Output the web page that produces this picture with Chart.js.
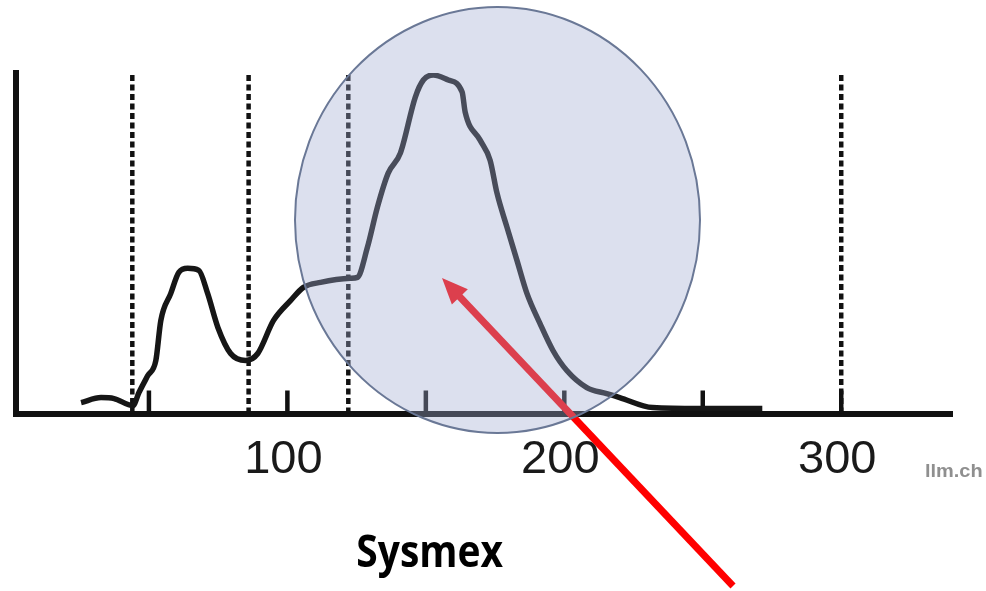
<!DOCTYPE html>
<html>
<head>
<meta charset="utf-8">
<script src="https://cdn.jsdelivr.net/npm/chart.js@4"></script>
<style>
  html, body { margin: 0; padding: 0; background: #fff; }
  #wrap { width: 986px; height: 591px; position: relative; }
</style>
</head>
<body>
<div id="wrap"><canvas id="c"></canvas></div>
<script>
// platelet histogram (x = fL, y = relative height)
const curveX = [25.5, 32.7, 37.4, 44.2, 46.4, 49.6, 52.5, 54.3, 57.9, 60.8, 64.0, 68.0, 71.2, 74.9, 79.5, 84.9, 89.3, 95.0, 101.2, 105.8, 112.0, 122.8, 125.3, 128.9, 132.5, 136.4, 140.8, 146.2, 149.1, 152.7, 158.1, 163.1, 164.2, 169.6, 173.2, 175.7, 179.3, 182.9, 186.5, 191.2, 195.9, 200.9, 208.1, 215.3, 220.0, 231.9, 248.8, 271.5];
const curveY = [11, 16, 15, 8, 21, 38, 53, 93, 120, 141, 145, 143, 120, 86, 60, 53, 60, 93, 113, 126, 131, 135, 136, 166, 206, 240, 260, 316, 333, 338, 333, 321, 301, 273, 253, 220, 186, 153, 120, 90, 63, 43, 26, 20, 16, 6, 5, 5];
const cutoffs = [44, 86, 122, 300];          // dotted discriminator lines
const tickValues = [50, 100, 150, 200, 250, 300];
const labelValues = [100, 200, 300];
const yMax = 340;
const tickHeight = 23;

// build segment lists (null breaks the line between segments)
function segments(values, top) {
  const pts = [];
  values.forEach(v => { pts.push({x: v, y: 0}, {x: v, y: top}, {x: v, y: null}); });
  return pts;
}

const overlay = {
  id: 'overlay',
  afterDraw(chart) {
    const ctx = chart.ctx;
    ctx.save();

    // red arrow (sits under the translucent circle)
    const tail = {x: 733, y: 586}, tip = {x: 442, y: 278};
    const ang = Math.atan2(tip.y - tail.y, tip.x - tail.x);
    const headLen = 26, headW = 11;
    const bx = tip.x - headLen * Math.cos(ang), by = tip.y - headLen * Math.sin(ang);
    ctx.strokeStyle = '#ff0000';
    ctx.lineWidth = 7;
    ctx.beginPath();
    ctx.moveTo(tail.x, tail.y);
    ctx.lineTo(bx + 4 * Math.cos(ang), by + 4 * Math.sin(ang));
    ctx.stroke();
    ctx.fillStyle = '#ff0000';
    ctx.beginPath();
    ctx.moveTo(tip.x, tip.y);
    ctx.lineTo(bx + headW * Math.sin(ang), by - headW * Math.cos(ang));
    ctx.lineTo(bx - headW * Math.sin(ang), by + headW * Math.cos(ang));
    ctx.closePath();
    ctx.fill();

    // highlight ellipse
    ctx.beginPath();
    ctx.ellipse(497.5, 220, 202.5, 213, 0, 0, Math.PI * 2);
    ctx.fillStyle = 'rgba(160, 172, 210, 0.37)';
    ctx.fill();
    ctx.strokeStyle = '#6a7896';
    ctx.lineWidth = 2;
    ctx.stroke();

    // caption text, squeezed to the widths seen in the picture
    function fitText(str, font, color, left, baseline, width) {
      ctx.font = font;
      const m = ctx.measureText(str);
      const w = m.actualBoundingBoxLeft + m.actualBoundingBoxRight;
      const s = width / w;
      ctx.save();
      ctx.translate(left, baseline);
      ctx.scale(s, 1);
      ctx.fillStyle = color;
      ctx.textBaseline = 'alphabetic';
      ctx.textAlign = 'left';
      ctx.fillText(str, m.actualBoundingBoxLeft, 0);
      ctx.restore();
    }
    fitText('Sysmex', 'bold 45px "Open Sans"', '#000', 358, 567, 145);
    fitText('llm.ch', 'bold 19px "Liberation Sans"', '#8f8f8f', 926, 477, 56);

    ctx.restore();
  }
};

new Chart(document.getElementById('c'), {
  type: 'line',
  data: {
    datasets: [
      {
        label: 'curve',
        data: curveX.map((x, i) => ({x: x, y: curveY[i]})),
        borderColor: '#161616',
        borderWidth: 5.5,
        pointRadius: 0,
        cubicInterpolationMode: 'monotone',
        fill: false
      },
      {
        label: 'cutoffs',
        data: segments(cutoffs, yMax),
        borderColor: '#111',
        borderWidth: 4.5,
        borderDash: [6, 3.5],
        pointRadius: 0,
        spanGaps: false
      },
      {
        label: 'ticks',
        data: segments(tickValues, tickHeight),
        borderColor: '#111',
        borderWidth: 4.5,
        pointRadius: 0,
        spanGaps: false
      }
    ]
  },
  options: {
    responsive: true,
    maintainAspectRatio: false,
    animation: false,
    layout: { padding: { left: 16, top: 73, right: 34, bottom: 85 } },
    plugins: { legend: { display: false }, tooltip: { enabled: false } },
    scales: {
      x: {
        type: 'linear',
        min: 2,
        max: 340,
        afterBuildTicks(scale) { scale.ticks = labelValues.map(v => ({value: v})); },
        grid: { display: false, drawTicks: false },
        border: { display: true, width: 6, color: '#111' },
        ticks: {
          color: '#1a1a1a',
          padding: 18,
          labelOffset: -4,
          maxRotation: 0,
          font: { family: '"Liberation Sans", Arial, sans-serif', size: 47 },
          callback: v => String(v)
        }
      },
      y: {
        min: 0,
        max: yMax,
        grid: { display: false, drawTicks: false },
        border: { display: true, width: 6, color: '#111' },
        ticks: { display: false }
      }
    }
  },
  plugins: [overlay]
});
</script>
</body>
</html>
